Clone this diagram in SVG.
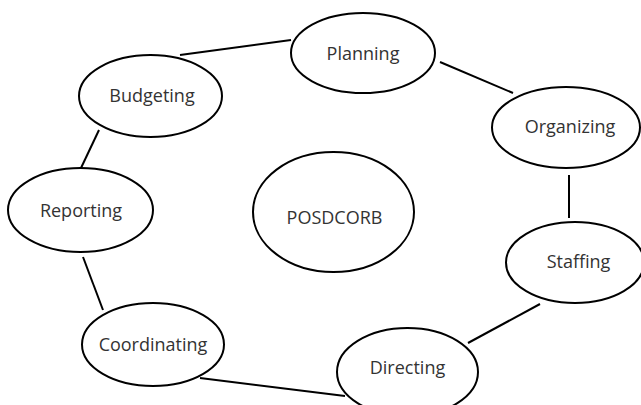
<svg xmlns="http://www.w3.org/2000/svg" width="641" height="405" viewBox="0 0 641 405">
<style>
.n ellipse{fill:#fff;stroke:#000;stroke-width:2}
.n text{font-family:"Open Sans","Noto Sans",sans-serif;font-size:18px;fill:#333;text-anchor:middle}
.c line{stroke:#000;stroke-width:2}
</style>
<rect width="641" height="405" fill="#fff"/>
<g class="c" id="connectors">
<line x1="180" y1="55" x2="291" y2="40"/>
<line x1="440" y1="62" x2="513" y2="93"/>
<line x1="569" y1="175" x2="569" y2="218"/>
<line x1="540" y1="304" x2="468" y2="343"/>
<line x1="345" y1="396" x2="200" y2="378"/>
<line x1="103" y1="310" x2="83" y2="257"/>
<line x1="81" y1="168" x2="99" y2="130"/>
</g>
<g class="n" id="planning"><ellipse cx="363" cy="53" rx="72" ry="40"/><text x="363" y="60">Planning</text></g>
<g class="n" id="organizing"><ellipse cx="566" cy="127.5" rx="74" ry="40.5"/><text x="570" y="133">Organizing</text></g>
<g class="n" id="budgeting"><ellipse cx="150.5" cy="96" rx="71.5" ry="41"/><text x="152" y="102">Budgeting</text></g>
<g class="n" id="reporting"><ellipse cx="80.5" cy="210" rx="72.5" ry="42"/><text x="81" y="217">Reporting</text></g>
<g class="n" id="posdcorb"><ellipse cx="333.5" cy="212" rx="80.5" ry="60"/><text x="334.5" y="224">POSDCORB</text></g>
<g class="n" id="staffing"><ellipse cx="575" cy="262.5" rx="69" ry="40.5"/><text x="578.5" y="268">Staffing</text></g>
<g class="n" id="coordinating"><ellipse cx="153" cy="344.5" rx="71" ry="41.5"/><text x="153" y="351">Coordinating</text></g>
<g class="n" id="directing"><ellipse cx="407.5" cy="372" rx="70.5" ry="44"/><text x="407.5" y="374">Directing</text></g>
</svg>
